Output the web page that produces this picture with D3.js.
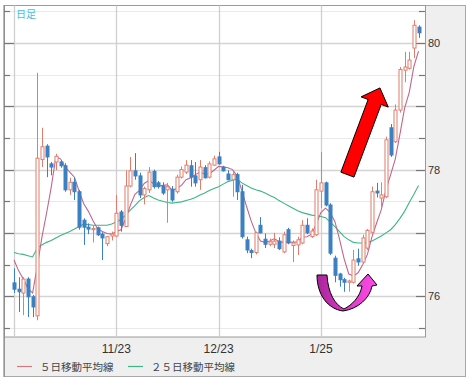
<!DOCTYPE html>
<html><head><meta charset="utf-8">
<script src="https://cdn.jsdelivr.net/npm/d3@7"></script>
<style>body{margin:0;background:#fff}</style>
</head><body>
<svg id="c" width="469" height="383"></svg>
<script>
// ---- data ----
const opens  = [76.21,76.11,76.05,76.27,75.99,75.69,78.16,78.37,78.09,78.12,78.12,78.06,77.68,77.80,77.65,77.20,77.09,77.05,77.08,76.98,76.83,76.95,76.95,77.33,77.10,77.74,77.98,77.90,77.60,77.68,77.97,77.79,77.74,77.68,77.69,77.65,77.88,77.96,78.06,77.90,77.84,78.03,77.88,78.07,78.20,78.04,77.93,77.84,77.92,77.65,76.89,76.72,76.69,77.12,76.90,76.82,76.82,76.87,76.70,77.05,76.80,76.81,76.84,77.12,76.94,76.97,77.66,77.79,77.44,76.60,76.35,76.26,76.22,76.22,76.59,76.54,76.76,77.01,77.66,77.55,77.57,78.66,78.44,78.94,79.57,79.60,79.92,80.25];
const highs  = [76.44,76.30,76.30,76.30,76.02,79.53,78.66,78.40,78.12,78.25,78.15,78.10,77.87,77.87,77.68,77.23,77.15,77.12,77.10,77.01,76.95,77.02,77.60,77.36,77.99,78.20,78.26,77.95,77.73,78.04,78.00,77.82,77.80,77.79,77.74,77.92,78.05,78.15,78.15,78.12,78.15,78.07,78.13,78.22,78.28,78.06,77.99,77.99,77.95,77.76,76.94,76.75,77.02,77.25,76.99,76.91,77.00,76.93,77.02,77.08,76.88,76.94,77.20,77.23,77.07,77.84,78.28,77.81,77.47,76.64,76.37,76.29,76.26,76.73,76.75,76.97,77.06,77.73,77.79,77.80,78.52,78.72,79.03,79.62,79.86,79.86,80.36,80.28];
const lows   = [76.05,75.75,75.70,75.67,75.67,75.62,78.04,77.88,77.91,77.99,78.03,77.65,77.60,77.52,77.05,76.81,76.98,76.85,76.95,76.57,76.79,76.88,76.94,77.02,77.10,77.72,77.84,77.55,77.45,77.63,77.70,77.70,77.60,77.16,77.49,77.62,77.86,77.93,77.73,77.73,77.68,77.86,77.86,78.06,78.08,77.97,77.83,77.57,77.52,76.91,76.68,76.60,76.66,76.99,76.76,76.79,76.76,76.73,76.68,76.82,76.54,76.65,76.82,76.98,76.92,76.95,77.39,77.42,76.65,76.22,76.15,76.07,76.07,76.20,76.48,76.51,76.73,76.99,77.56,77.40,77.55,78.20,78.42,78.90,79.38,79.58,79.76,80.08];
const closes = [76.11,76.07,76.27,75.99,75.83,78.18,78.36,78.20,78.04,78.21,78.06,77.68,77.80,77.65,77.09,77.09,77.06,77.07,76.97,76.92,76.94,76.98,77.31,77.12,77.74,77.98,77.90,77.60,77.70,77.96,77.73,77.73,77.63,77.73,77.52,77.88,78.00,78.07,77.88,77.79,78.04,77.87,78.09,78.17,78.09,77.98,77.84,77.92,77.65,76.94,76.73,76.69,77.00,77.00,76.82,76.86,76.87,76.75,76.97,76.84,76.84,76.89,77.12,77.00,77.03,77.68,77.79,77.44,76.68,76.33,76.26,76.22,76.24,76.57,76.54,76.92,77.04,77.65,77.63,77.60,78.47,78.23,78.94,79.58,79.62,79.73,80.28,80.16];
const ma5  = [76.57,76.40,76.27,76.12,76.05,76.47,76.93,77.31,77.72,78.20,78.17,78.04,77.96,77.88,77.66,77.46,77.34,77.19,77.06,77.02,76.99,76.98,77.02,77.05,77.22,77.43,77.61,77.67,77.78,77.83,77.78,77.74,77.75,77.76,77.67,77.70,77.75,77.84,77.87,77.92,77.96,77.93,77.93,77.99,78.05,78.04,78.03,78.00,77.90,77.67,77.42,77.19,77.00,76.87,76.85,76.87,76.91,76.86,76.85,76.86,76.85,76.86,76.93,76.94,76.98,77.14,77.32,77.39,77.32,77.18,76.90,76.59,76.35,76.32,76.37,76.50,76.66,76.94,77.16,77.37,77.68,77.92,78.17,78.56,78.97,79.22,79.63,79.87];
const ma25 = [76.69,76.67,76.66,76.64,76.62,76.76,76.81,76.85,76.88,76.92,76.96,76.99,77.02,77.06,77.10,77.14,77.13,77.12,77.12,77.12,77.12,77.14,77.17,77.21,77.28,77.36,77.43,77.51,77.56,77.59,77.55,77.52,77.50,77.48,77.47,77.48,77.49,77.51,77.53,77.56,77.60,77.63,77.67,77.70,77.73,77.77,77.81,77.83,77.85,77.79,77.75,77.71,77.68,77.66,77.63,77.59,77.56,77.51,77.47,77.43,77.39,77.35,77.32,77.30,77.28,77.27,77.26,77.24,77.17,77.10,77.02,76.94,76.89,76.85,76.84,76.84,76.85,76.87,76.91,76.95,77.00,77.05,77.13,77.23,77.34,77.48,77.61,77.75];
const xTickIndex  = [0, 22, 44, 66];
const xTickLabels = ["", "11/23", "12/23", "1/25"];
const yGridValues = [75.5,76,76.5,77,77.5,78,78.5,79,79.5,80,80.5];
const yLabelValues = [76, 78, 80];
const legendLabels = ["５日移動平均線", "２５日移動平均線"];
const titleLabel = "日足";

// ---- layout ----
const svg = d3.select("#c");
const P = {l: 4.5, t: 5.5, r: 425.5, b: 337};
const x = d3.scaleLinear().domain([0, closes.length - 1]).range([14, 418.55]);
const y = d3.scaleLinear().domain([75.355, 80.6]).range([P.b, P.t - 0.5]);

const RED = "#e27d6d", BLUE = "#3d80c2", C5 = "#c0668c", C25 = "#3db584";

// outer gray panel
svg.append("rect").attr("x", 4.5).attr("y", 5.5).attr("width", 461).attr("height", 371)
  .attr("fill", "#efefef").attr("stroke", "#a8a8a8");
// plot white area
svg.append("rect").attr("x", P.l).attr("y", P.t).attr("width", P.r - P.l).attr("height", P.b - P.t)
  .attr("fill", "#fff").attr("stroke", "#9a9a9a");

const g = svg.append("g");
// horizontal grid
g.selectAll("line.hg").data(yGridValues).join("line")
  .attr("x1", P.l).attr("x2", P.r)
  .attr("y1", d => Math.round(y(d)) + 0.5).attr("y2", d => Math.round(y(d)) + 0.5)
  .attr("stroke", d => Number.isInteger(d) ? "#d4d4d4" : "#e9e9e9")
  .attr("stroke-width", d => Number.isInteger(d) ? 1.6 : 1);
// vertical grid
g.selectAll("line.vg").data(xTickIndex).join("line")
  .attr("x1", d => Math.round(x(d)) + 0.5).attr("x2", d => Math.round(x(d)) + 0.5)
  .attr("y1", P.t).attr("y2", P.b)
  .attr("stroke", "#cfcfcf").attr("stroke-width", 1.3);

// left frame line (darker) and ticks
svg.append("line").attr("x1", 4).attr("x2", 4).attr("y1", 5).attr("y2", 377).attr("stroke", "#8a8a8a").attr("stroke-width", 1.2);
svg.selectAll("line.lt").data(yGridValues).join("line")
  .attr("x1", 4).attr("x2", d => Number.isInteger(d) ? 14 : 10)
  .attr("y1", d => Math.round(y(d)) + 0.5).attr("y2", d => Math.round(y(d)) + 0.5)
  .attr("stroke", "#777").attr("stroke-width", 1.2);
// right axis ticks (inward)
svg.selectAll("line.rt").data(yGridValues).join("line")
  .attr("x1", d => Number.isInteger(d) ? 416 : 419).attr("x2", P.r)
  .attr("y1", d => Math.round(y(d)) + 0.5).attr("y2", d => Math.round(y(d)) + 0.5)
  .attr("stroke", "#777").attr("stroke-width", 1.2);
svg.selectAll("text.yl").data(yLabelValues).join("text")
  .attr("x", 428).attr("y", d => y(d) + 4)
  .attr("font-family", "Liberation Sans, Arial, sans-serif").attr("font-size", 11)
  .attr("fill", "#333").text(d => d);

// x labels
svg.selectAll("text.xl").data(xTickIndex).join("text")
  .attr("x", d => x(d)).attr("y", 353).attr("text-anchor", "middle")
  .attr("font-family", "Liberation Sans, Arial, sans-serif").attr("font-size", 12)
  .attr("fill", "#333").text((d, i) => xTickLabels[i]);

// title
svg.append("text").attr("x", 16).attr("y", 18)
  .attr("font-family", "Noto Sans CJK JP, sans-serif").attr("font-size", 10)
  .attr("fill", "#49bde0").text(titleLabel);

// clip for plot
svg.append("clipPath").attr("id", "clip").append("rect")
  .attr("x", P.l).attr("y", P.t).attr("width", P.r - P.l).attr("height", P.b - P.t);
const pg = svg.append("g").attr("clip-path", "url(#clip)");

// MA lines
const line = arr => d3.line().x((d, i) => x(i)).y(d => y(d))(arr);
pg.append("path").attr("d", line(ma25)).attr("fill", "none").attr("stroke", C25).attr("stroke-width", 1.1);
pg.append("path").attr("d", line(ma5)).attr("fill", "none").attr("stroke", C5).attr("stroke-width", 1.1);

// candles
const bw = 3;
const candles = pg.selectAll("g.cd").data(closes.map((c, i) => ({i, o: opens[i], h: highs[i], l: lows[i], c})))
  .join("g");
candles.append("line")
  .attr("x1", d => Math.round(x(d.i)) + 0.5).attr("x2", d => Math.round(x(d.i)) + 0.5)
  .attr("y1", d => y(d.h)).attr("y2", d => y(d.l))
  .attr("stroke", d => d.c >= d.o ? RED : BLUE).attr("stroke-width", 1);
candles.append("rect")
  .attr("x", d => Math.round(x(d.i)) + 0.5 - bw / 2)
  .attr("y", d => y(Math.max(d.o, d.c)))
  .attr("width", bw)
  .attr("height", d => Math.max(1, Math.abs(y(d.o) - y(d.c))))
  .attr("fill", d => d.c >= d.o ? "#fff" : BLUE)
  .attr("stroke", d => d.c >= d.o ? RED : BLUE).attr("stroke-width", 1);

// ---- annotations ----
// red straight arrow (anchored in data coords)
const tail = [x(71.7), y(77.92)], tip = [x(78.7), y(79.29)];
const dx = tip[0] - tail[0], dy = tip[1] - tail[1], L = Math.hypot(dx, dy);
const ux = dx / L, uy = dy / L, nx = -uy, ny = ux;
const sw = 7, hw = 14.5, hl = 15;
const bx = tip[0] - ux * hl, by = tip[1] - uy * hl;
const pts = [
  [tail[0] + nx * sw, tail[1] + ny * sw],
  [bx + nx * sw, by + ny * sw],
  [bx + nx * hw, by + ny * hw],
  tip,
  [bx - nx * hw, by - ny * hw],
  [bx - nx * sw, by - ny * sw],
  [tail[0] - nx * sw, tail[1] - ny * sw]
];
svg.append("polygon").attr("points", pts.map(p => p.join(",")).join(" "))
  .attr("fill", "#ff0000").attr("stroke", "#000").attr("stroke-width", 1).attr("stroke-linejoin", "miter");

// magenta U-turn arrow
const grad = svg.append("defs").append("linearGradient").attr("id", "mg")
  .attr("x1", "0%").attr("x2", "100%").attr("y1", "0%").attr("y2", "0%");
grad.append("stop").attr("offset", "0%").attr("stop-color", "#a8249a");
grad.append("stop").attr("offset", "45%").attr("stop-color", "#d83ac4");
grad.append("stop").attr("offset", "100%").attr("stop-color", "#ff4ae8");
const ax = x(70.75), ay = y(75.766);
const uPath = "M-26,-36 C-26,-16 -15,-2 0,0 C15,-2 27,-13 29,-25 L34,-26 L25,-37 L14,-25 L19,-25 C17,-14 9,-6 1,-2 C-8,-6 -15,-18 -16,-36 Z";
svg.append("path").attr("d", uPath).attr("transform", `translate(${ax},${ay})`)
  .attr("fill", "url(#mg)").attr("stroke", "#000").attr("stroke-width", 1);

// legend
const lg = svg.append("g");
const legendX = [17, 128], legendTextX = [40, 151], legendColors = [C5, C25];
legendLabels.forEach((t, i) => {
  lg.append("line").attr("x1", legendX[i]).attr("x2", legendX[i] + 15).attr("y1", 366.5).attr("y2", 366.5)
    .attr("stroke", i === 0 ? "#d07a82" : legendColors[i]).attr("stroke-width", 1.2);
  lg.append("text").attr("x", legendTextX[i]).attr("y", 370.5)
    .attr("font-family", "Noto Sans CJK JP, sans-serif").attr("font-size", 10.5)
    .attr("fill", "#444").text(t);
});
</script>
</body></html>
